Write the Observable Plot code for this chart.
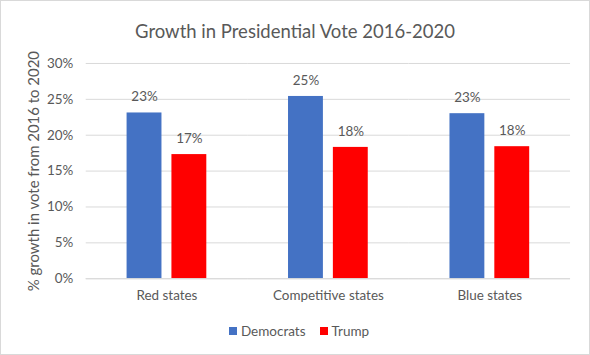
<!DOCTYPE html>
<html>
<head>
<meta charset="utf-8">
<script src="https://cdn.jsdelivr.net/npm/d3@7"></script>
<script src="https://cdn.jsdelivr.net/npm/@observablehq/plot@0.6"></script>
<style>
  body { margin: 0; background: #fff; }
  #chart { position: relative; width: 588px; height: 353px; border: 1px solid #d9d9d9; font-family: Lato, "Open Sans", sans-serif; color: #595959; overflow: hidden; }
  #title { height: 49px; text-align: center; font-size: 18.5px; line-height: 20px; padding-top: 20px; box-sizing: border-box; color: #595959; }
  #legend { display: flex; justify-content: center; gap: 14px; font-size: 13.5px; margin-top: 14px; padding-left: 8px; }
  #legend span.sw { display: inline-block; width: 8px; height: 8px; margin-right: 4px; }
  #legend .item { display: flex; align-items: center; }
  svg text { fill: #595959; }
</style>
</head>
<body>
<div id="chart">
  <div id="title">Growth in Presidential Vote 2016-2020</div>
  <div id="plot"></div>
  <div id="legend"></div>
</div>
<script>
const categories = ["Red states", "Competitive states", "Blue states"];
const seriesNames = ["Democrats", "Trump"];
const democrats = [0.231, 0.254, 0.230];
const trump = [0.173, 0.183, 0.184];
const colors = ["#4472C4", "#FF0000"];
const yTicks = [0, 0.05, 0.10, 0.15, 0.20, 0.25, 0.30];
const yLabel = "% growth in vote from 2016 to 2020";

const data = [];
categories.forEach((c, i) => {
  data.push({category: c, series: seriesNames[0], value: democrats[i]});
  data.push({category: c, series: seriesNames[1], value: trump[i]});
});

const pct = d3.format(".0%");

const plot = Plot.plot({
  width: 590,
  height: 260,
  marginTop: 13,
  marginBottom: 31,
  marginLeft: 85,
  marginRight: 19,
  style: {fontFamily: "Lato, 'Open Sans', sans-serif", fontSize: "13px", color: "#595959", background: "transparent"},
  fx: {domain: categories, padding: 0, label: null, axis: null},
  x: {domain: seriesNames, paddingInner: 0.217, paddingOuter: 0.87, axis: null},
  y: {domain: [0, 0.30], ticks: yTicks, tickFormat: pct, label: yLabel},
  color: {domain: seriesNames, range: colors},
  marks: [
    Plot.gridY(yTicks, {stroke: "#d9d9d9", strokeOpacity: 1, strokeWidth: 1}),
    Plot.axisY({ticks: yTicks, tickFormat: pct, tickSize: 0, tickPadding: 13, label: yLabel, labelAnchor: "center", labelArrow: "none", labelOffset: 58, fontSize: 13.5}),
    Plot.axisFx({anchor: "bottom", tickSize: 0, tickPadding: 12, label: null, fontSize: 13.5}),
    Plot.barY(data, {fx: "category", x: "series", y: "value", fill: "series"}),
    Plot.text(data, {fx: "category", x: "series", y: "value", text: d => pct(d.value), dy: -16, fontSize: 13.5, fill: "#595959"}),
    Plot.ruleY([0], {stroke: "#d9d9d9"})
  ]
});
document.getElementById("plot").appendChild(plot);
const lab = plot.querySelector('[aria-label="y-axis label"] text');
if (lab) lab.style.fontSize = "15px";

const legend = document.getElementById("legend");
seriesNames.forEach((s, i) => {
  const item = document.createElement("div");
  item.className = "item";
  const sw = document.createElement("span");
  sw.className = "sw";
  sw.style.background = colors[i];
  item.appendChild(sw);
  item.appendChild(document.createTextNode(s));
  legend.appendChild(item);
});
</script>
</body>
</html>
